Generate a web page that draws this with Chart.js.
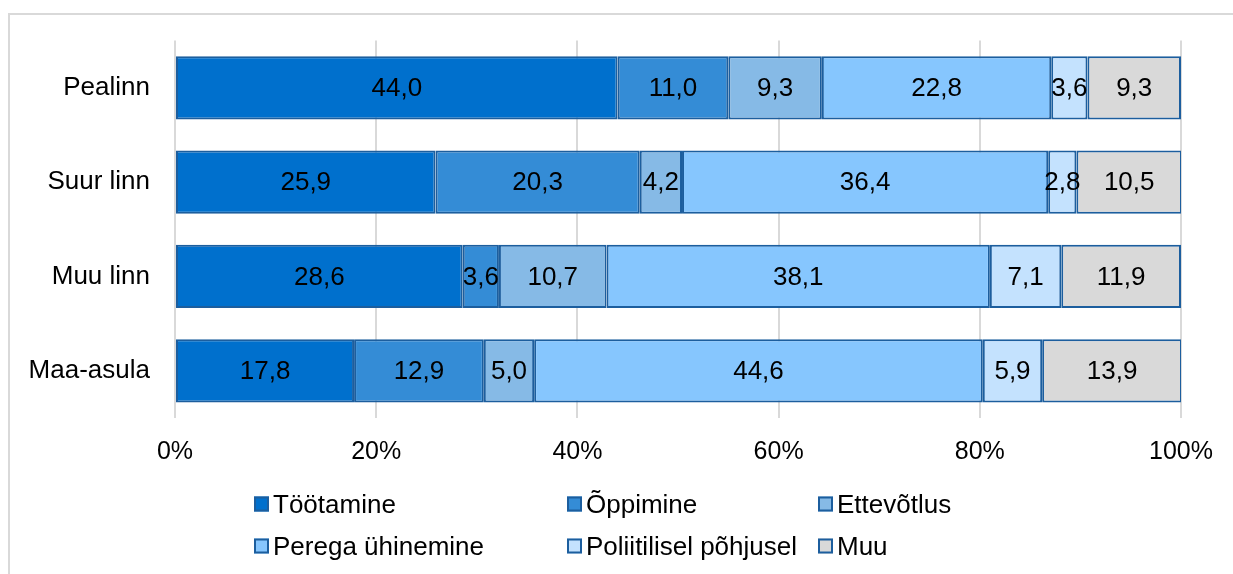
<!DOCTYPE html>
<html>
<head>
<meta charset="utf-8">
<script src="https://cdn.jsdelivr.net/npm/chart.js@4/dist/chart.umd.min.js"></script>
<style>
  html, body { margin: 0; padding: 0; background: #fff; width: 1233px; height: 574px; overflow: hidden; position: relative; font-family: "Liberation Sans", Arial, sans-serif; }
  #frame { position: absolute; left: 8px; top: 13px; width: 1260px; height: 620px; border: 2px solid #d9d9d9; box-sizing: border-box; }
  #wrap { position: absolute; left: 0; top: 0; width: 1233px; height: 574px; }
  #legend { position: absolute; left: 0; top: 0; width: 1233px; height: 574px; pointer-events: none; }
  .li { position: absolute; display: flex; align-items: center; font-size: 26px; color: #000; white-space: nowrap; transform: translateY(-50%); }
  .sw { width: 11px; height: 11px; border: 2px solid #1c5e9e; margin-right: 4px; box-sizing: content-box; }
</style>
</head>
<body>
<div id="frame"></div>
<div id="wrap"><canvas id="c" width="1233" height="574"></canvas></div>
<div id="legend"></div>
<script>
const categories = ["Pealinn", "Suur linn", "Muu linn", "Maa-asula"];
const seriesNames = ["Töötamine", "Õppimine", "Ettevõtlus", "Perega ühinemine", "Poliitilisel põhjusel", "Muu"];
const tootamine  = [44.0, 25.9, 28.6, 17.8];
const oppimine   = [11.0, 20.3, 3.6, 12.9];
const ettevotlus = [9.3, 4.2, 10.7, 5.0];
const perega     = [22.8, 36.4, 38.1, 44.6];
const poliitiline= [3.6, 2.8, 7.1, 5.9];
const muu        = [9.3, 10.5, 11.9, 13.9];
const xTicks = [0, 20, 40, 60, 80, 100];

const seriesValues = [tootamine, oppimine, ettevotlus, perega, poliitiline, muu];
const colors = ["#0070cd", "#348cd6", "#86bae6", "#86c6fe", "#c4e2fe", "#d9d9d9"];
const borderCol = "#1c5e9e";
const FONT = "'Liberation Sans', Arial, sans-serif";

const datasets = seriesNames.map((n, i) => ({
  label: n,
  data: seriesValues[i],
  backgroundColor: colors[i],
  borderColor: borderCol,
  borderWidth: 2,
  borderSkipped: false,
  barPercentage: 0.67,
  categoryPercentage: 1.0
}));

const valueLabels = {
  id: 'valueLabels',
  afterDatasetsDraw(chart) {
    const ctx = chart.ctx;
    ctx.save();
    ctx.font = "26px " + FONT;
    ctx.fillStyle = "#000";
    ctx.textAlign = "center";
    ctx.textBaseline = "middle";
    chart.data.datasets.forEach((ds, di) => {
      const meta = chart.getDatasetMeta(di);
      meta.data.forEach((el, i) => {
        const p = el.getProps(['x', 'base', 'y'], true);
        const v = ds.data[i];
        ctx.fillText(v.toFixed(1).replace('.', ','), (p.x + p.base) / 2, p.y + 1);
      });
    });
    ctx.restore();
  }
};

new Chart(document.getElementById('c'), {
  type: 'bar',
  data: { labels: categories, datasets },
  options: {
    indexAxis: 'y',
    responsive: false,
    animation: false,
    devicePixelRatio: 1,
    layout: { padding: { top: 39, right: 52, left: 0, bottom: 106 } },
    plugins: { legend: { display: false }, tooltip: { enabled: false } },
    scales: {
      x: {
        stacked: true,
        min: 0, max: 100,
        afterBuildTicks(scale) { scale.ticks = xTicks.map(v => ({ value: v })); },
        afterFit(scale) { scale.height = 50; },
        grid: { color: "#d9d9d9", lineWidth: 2, drawTicks: false },
        border: { display: false },
        ticks: { padding: 19, color: "#000", font: { family: FONT, size: 25 }, callback: v => v + "%" }
      },
      y: {
        stacked: true,
        afterFit(scale) { scale.width = 175; },
        grid: { display: false, drawTicks: false },
        border: { display: false },
        ticks: { padding: 25, color: "#000", font: { family: FONT, size: 26 } }
      }
    }
  },
  plugins: [valueLabels]
});

// HTML legend (grid layout, 3 columns x 2 rows)
const colX = [254, 567, 818];
const rowY = [504, 546];
const leg = document.getElementById('legend');
seriesNames.forEach((n, i) => {
  const d = document.createElement('div');
  d.className = 'li';
  d.style.left = colX[i % 3] + 'px';
  d.style.top = rowY[Math.floor(i / 3)] + 'px';
  const s = document.createElement('span');
  s.className = 'sw';
  s.style.background = colors[i];
  d.appendChild(s);
  d.appendChild(document.createTextNode(n));
  leg.appendChild(d);
});
</script>
</body>
</html>
